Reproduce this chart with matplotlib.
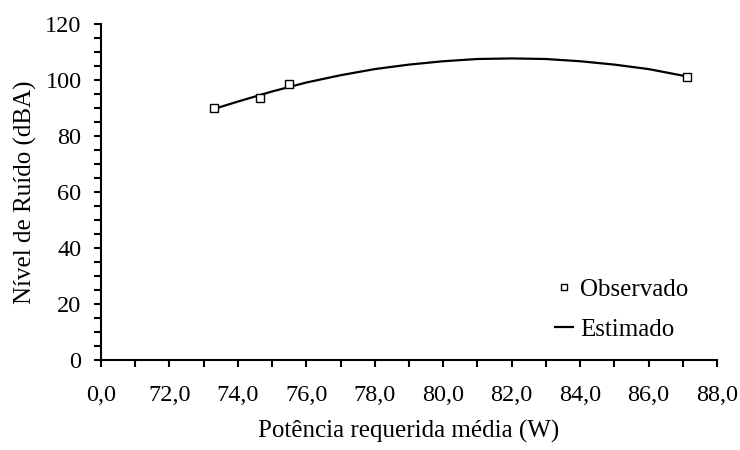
import numpy as np
import matplotlib
matplotlib.use('Agg')
import matplotlib.pyplot as plt
from matplotlib.ticker import MultipleLocator

plt.rcParams['font.family'] = ['Liberation Serif', 'DejaVu Serif']

# Observado
obs_x = [73.31, 74.65, 75.48, 87.11]
obs_y = [90.0, 93.7, 98.6, 101.2]

# Estimado
est_x = [73.31, 74.0, 75.0, 76.0, 77.0, 78.0, 79.0, 80.0, 81.0, 82.0,
         83.0, 84.0, 85.0, 86.0, 87.11]
est_y = [89.7, 92.3, 95.9, 99.1, 101.7, 103.9, 105.5, 106.7, 107.5, 107.7,
         107.5, 106.7, 105.5, 103.9, 101.3]

x_ticks = [70, 72, 74, 76, 78, 80, 82, 84, 86, 88]
x_labels = ['0,0', '72,0', '74,0', '76,0', '78,0', '80,0', '82,0', '84,0', '86,0', '88,0']

fig = plt.figure(figsize=(7.4, 4.5), dpi=100)
ax = fig.add_axes([101 / 740, 1 - 360 / 450, 616 / 740, 336 / 450])

ax.plot(est_x, est_y, color='black', linewidth=1.6, label='Estimado', zorder=2)
ax.plot(obs_x, obs_y, linestyle='none', marker='s', markersize=5.5,
        markerfacecolor='white', markeredgecolor='black', markeredgewidth=1.0,
        label='Observado', zorder=3)

ax.set_xlim(70, 88)
ax.set_ylim(0, 120)
ax.set_xticks(x_ticks)
ax.set_xticklabels(x_labels)
ax.xaxis.set_minor_locator(MultipleLocator(1))
ax.yaxis.set_major_locator(MultipleLocator(20))
ax.yaxis.set_minor_locator(MultipleLocator(5))

for side in ['top', 'right']:
    ax.spines[side].set_visible(False)
for side in ['left', 'bottom']:
    ax.spines[side].set_linewidth(1.5)

ax.tick_params(axis='both', which='both', direction='out', width=1.5, length=5,
               labelsize=17.5)
ax.tick_params(axis='x', which='major', pad=13)
ax.tick_params(axis='y', which='major', pad=9)

ax.set_xlabel('Potência requerida média (W)', fontsize=18)
ax.set_ylabel('Nível de Ruído (dBA)', fontsize=18)
ax.xaxis.set_label_coords(0.5, -(438 - 360) / 336, transform=ax.transAxes)
ax.yaxis.set_label_coords(-(101 - 25) / 616, 0.5, transform=ax.transAxes)
ax.xaxis.label.set_va('baseline')
ax.yaxis.label.set_va('center')

handles, labels = ax.get_legend_handles_labels()
leg = fig.legend(handles[::-1], labels[::-1], loc='upper left', frameon=False,
                 fontsize=18, handlelength=0.72, handletextpad=0.28,
                 labelspacing=0.7, borderpad=0, borderaxespad=0,
                 bbox_to_anchor=(555 / 740, 1 - 278.5 / 450))
leg.legend_handles[0].set_markersize(4.5)

fig.savefig('out.png', dpi=100)
